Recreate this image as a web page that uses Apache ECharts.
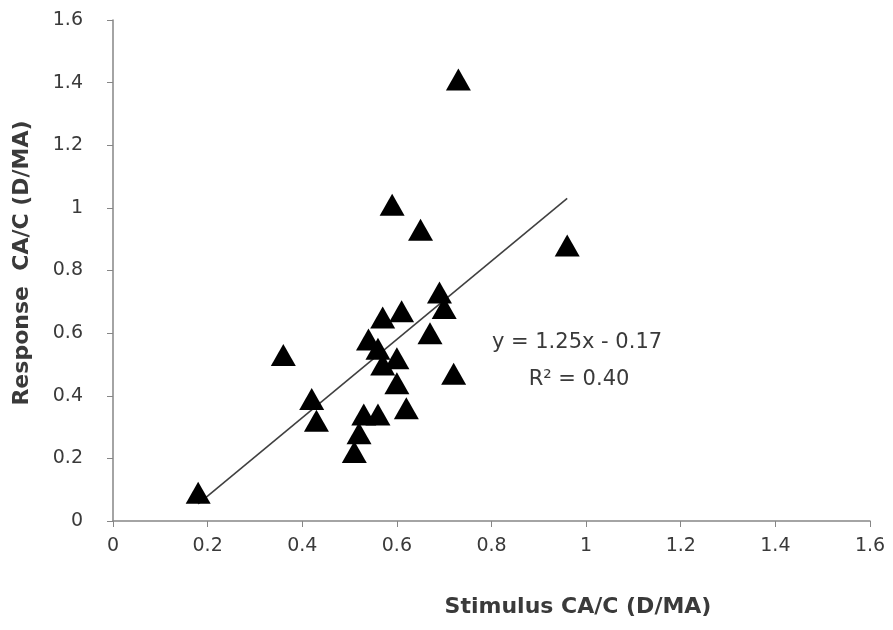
<!DOCTYPE html>
<html>
<head>
<meta charset="utf-8">
<script src="https://cdn.jsdelivr.net/npm/echarts@6/dist/echarts.min.js"></script>
<style>html,body{margin:0;padding:0;background:#fff}#c{width:893px;height:630px}</style>
</head>
<body>
<div id="c"></div>
<script>
const stimulus = [0.18, 0.36, 0.42, 0.43, 0.51, 0.52, 0.53, 0.56, 0.62, 0.60, 0.72, 0.57, 0.60, 0.54, 0.56, 0.57, 0.61, 0.67, 0.69, 0.70, 0.65, 0.59, 0.73, 0.96];
const response = [0.09, 0.53, 0.39, 0.32, 0.22, 0.28, 0.34, 0.34, 0.36, 0.44, 0.47, 0.50, 0.52, 0.58, 0.55, 0.65, 0.67, 0.60, 0.73, 0.68, 0.93, 1.01, 1.41, 0.88];
const slope = 1.25, intercept = -0.17;
const trendX = [0.18, 0.96];
const equationText = 'y = 1.25x - 0.17';
const r2Text = 'R² = 0.40';
const xTitle = 'Stimulus CA/C (D/MA)';
const yTitle = 'Response  CA/C (D/MA)';

const pts = stimulus.map((x, i) => [x, response[i]]);
const trend = trendX.map(x => [x, slope * x + intercept]);
const font = 'DejaVu Sans';
const txt = '#3a3a3a';

const chart = echarts.init(document.getElementById('c'), null, {renderer: 'canvas'});
chart.setOption({
  backgroundColor: '#fff',
  animation: false,
  grid: {left: 113, right: 23, top: 20, bottom: 109, containLabel: false},
  xAxis: {
    type: 'value', min: 0, max: 1.6, interval: 0.2,
    axisLine: {show: true, lineStyle: {color: '#868686', width: 1.5}},
    axisTick: {show: true, length: 6, lineStyle: {color: '#868686'}},
    splitLine: {show: false},
    axisLabel: {color: txt, fontFamily: font, fontSize: 19, margin: 16,
      formatter: v => String(+v.toFixed(1))}
  },
  yAxis: {
    type: 'value', min: 0, max: 1.6, interval: 0.2,
    axisLine: {show: true, lineStyle: {color: '#868686', width: 1.5}},
    axisTick: {show: true, length: 6, lineStyle: {color: '#868686'}},
    splitLine: {show: false},
    axisLabel: {color: txt, fontFamily: font, fontSize: 19, margin: 30,
      formatter: v => String(+v.toFixed(1))}
  },
  series: [
    {
      type: 'line', data: trend, showSymbol: false, symbol: 'none',
      lineStyle: {color: '#404040', width: 1.6}, z: 1
    },
    {
      type: 'scatter', data: pts, symbol: 'triangle', symbolSize: [25, 22],
      itemStyle: {color: '#000', opacity: 1}, z: 2
    }
  ],
  graphic: [
    {type: 'text', x: 577, y: 343, style: {text: equationText, fill: txt, font: '21px "DejaVu Sans"', align: 'center', verticalAlign: 'middle'}},
    {type: 'text', x: 579, y: 380, style: {text: r2Text, fill: txt, font: '21px "DejaVu Sans"', align: 'center', verticalAlign: 'middle'}},
    {type: 'text', x: 578, y: 607, style: {text: xTitle, fill: txt, font: 'bold 22px "DejaVu Sans"', align: 'center', verticalAlign: 'middle'}},
    {type: 'text', x: 22, y: 263, rotation: Math.PI / 2, style: {text: yTitle, fill: txt, font: 'bold 22px "DejaVu Sans"', align: 'center', verticalAlign: 'middle'}}
  ]
});
</script>
</body>
</html>
